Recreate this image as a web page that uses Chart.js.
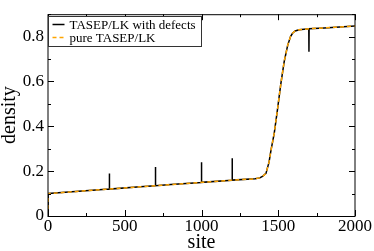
<!DOCTYPE html>
<html>
<head>
<meta charset="utf-8">
<script src="https://cdn.jsdelivr.net/npm/chart.js@4/dist/chart.umd.min.js"></script>
<style>
  html, body { margin: 0; padding: 0; background: #fff; }
  #wrap { width: 374px; height: 251px; }
</style>
</head>
<body>
<div id="wrap"><canvas id="chart" width="374" height="251"></canvas></div>
<script>
// pure TASEP/LK profile
const pureSites = [0, 1, 200, 400, 600, 800, 1000, 1200, 1350, 1380, 1400, 1420, 1440, 1452, 1474, 1496, 1517, 1539, 1561, 1580, 1593, 1610, 1636, 1700, 1800, 1900, 2000];
const pureDensity = [0, 0.1, 0.11, 0.12, 0.13, 0.14, 0.15, 0.16, 0.166, 0.17, 0.178, 0.19, 0.24, 0.29, 0.37, 0.48, 0.59, 0.69, 0.76, 0.8, 0.815, 0.825, 0.831, 0.835, 0.839, 0.843, 0.847];

// defect sites and the density right at each defect
const defectSites = [400, 700, 1000, 1200, 1700];
const defectDensity = [0.19, 0.218, 0.24, 0.258, 0.733];

const xTicks = [0, 500, 1000, 1500, 2000];
const yTicks = [0, 0.2, 0.4, 0.6, 0.8];

const serif = '"Liberation Serif", "DejaVu Serif", serif';

function pureAt(x) {
  for (let i = 1; i < pureSites.length; i++) {
    if (x <= pureSites[i]) {
      const t = (x - pureSites[i - 1]) / (pureSites[i] - pureSites[i - 1]);
      return pureDensity[i - 1] + t * (pureDensity[i] - pureDensity[i - 1]);
    }
  }
  return pureDensity[pureDensity.length - 1];
}

// profile with defects = pure profile plus a one-site spike at each defect
let withDefects = pureSites.map((s, i) => ({ x: s, y: pureDensity[i] }));
defectSites.forEach((s, i) => {
  withDefects.push({ x: s - 1, y: pureAt(s - 1) });
  withDefects.push({ x: s, y: defectDensity[i] });
  withDefects.push({ x: s + 1, y: pureAt(s + 1) });
});
withDefects.sort((a, b) => a.x - b.x);
const pure = pureSites.map((s, i) => ({ x: s, y: pureDensity[i] }));

// inward ticks on all four sides + legend box
const framePlugin = {
  id: 'frame',
  afterDraw(chart) {
    const c = chart.ctx;
    const a = chart.chartArea;
    const xs = chart.scales.x, ys = chart.scales.y;
    c.save();
    c.strokeStyle = '#000';
    c.lineWidth = 1;
    c.strokeRect(a.left, a.top + 0.5, a.right - a.left, a.bottom - a.top);
    for (let v = 0; v <= 2000; v += 250) {
      const px = Math.round(xs.getPixelForValue(v)) + 0.5;
      const len = v % 500 === 0 ? 6 : 3;
      c.beginPath();
      c.moveTo(px, a.bottom); c.lineTo(px, a.bottom - len);
      c.moveTo(px, a.top); c.lineTo(px, a.top + len);
      c.stroke();
    }
    for (let k = 0; k <= 9; k++) {
      const py = Math.round(ys.getPixelForValue(k / 10)) + 0.5;
      const len = k % 2 === 0 ? 6 : 3;
      c.beginPath();
      c.moveTo(a.left, py); c.lineTo(a.left + len, py);
      c.moveTo(a.right, py); c.lineTo(a.right - len, py);
      c.stroke();
    }
    // legend
    const lx = a.left + 0.5, ly = 16.5, lw = 153, lh = 30;
    c.fillStyle = '#fff';
    c.fillRect(lx, ly, lw, lh);
    c.strokeStyle = '#333';
    c.strokeRect(lx, ly, lw, lh);
    c.font = '13px ' + serif;
    c.textBaseline = 'middle';
    chart.data.datasets.forEach((ds, i) => {
      const y = ly + 8 + i * 13;
      c.strokeStyle = ds.borderColor;
      c.lineWidth = 1.5;
      c.setLineDash(ds.borderDash || []);
      c.beginPath(); c.moveTo(lx + 4, y); c.lineTo(lx + 16, y); c.stroke();
      c.setLineDash([]);
      c.fillStyle = '#000';
      c.fillText(ds.label, lx + 21, y + 1);
    });
    c.restore();
  }
};

new Chart(document.getElementById('chart'), {
  type: 'line',
  data: {
    datasets: [{
      label: 'TASEP/LK with defects',
      data: withDefects,
      borderColor: '#000',
      borderWidth: 1.5,
      pointRadius: 0,
      tension: 0,
      order: 2
    }, {
      label: 'pure TASEP/LK',
      data: pure,
      borderColor: '#ffa500',
      borderWidth: 1.5,
      borderDash: [4, 3],
      pointRadius: 0,
      tension: 0,
      order: 1
    }]
  },
  options: {
    responsive: false,
    animation: false,
    layout: { padding: { top: 0, right: 18, left: 0, bottom: 0 } },
    plugins: { legend: { display: false }, tooltip: { enabled: false } },
    scales: {
      x: {
        type: 'linear',
        min: 0, max: 2000,
        afterBuildTicks: s => { s.ticks = xTicks.map(v => ({ value: v })); },
        afterFit: s => { s.height = 35; },
        grid: { display: false, drawTicks: false },
        border: { display: false },
        ticks: { color: '#000', padding: 2, maxRotation: 0, font: { family: serif, size: 17, lineHeight: 1 }, callback: v => String(v) },
        title: { display: true, text: 'site', color: '#000', padding: { top: 0, bottom: -2 }, font: { family: serif, size: 20, lineHeight: 1 } }
      },
      y: {
        min: 0, max: 0.9,
        afterBuildTicks: s => { s.ticks = yTicks.map(v => ({ value: v })); },
        afterFit: s => { s.width = 48; },
        grid: { display: false, drawTicks: false },
        border: { display: false },
        ticks: { color: '#000', padding: 4, font: { family: serif, size: 17 }, callback: v => String(v) },
        title: { display: true, text: 'density', color: '#000', padding: 0, font: { family: serif, size: 20, lineHeight: 1 } }
      }
    }
  },
  plugins: [framePlugin]
});
</script>
</body>
</html>
